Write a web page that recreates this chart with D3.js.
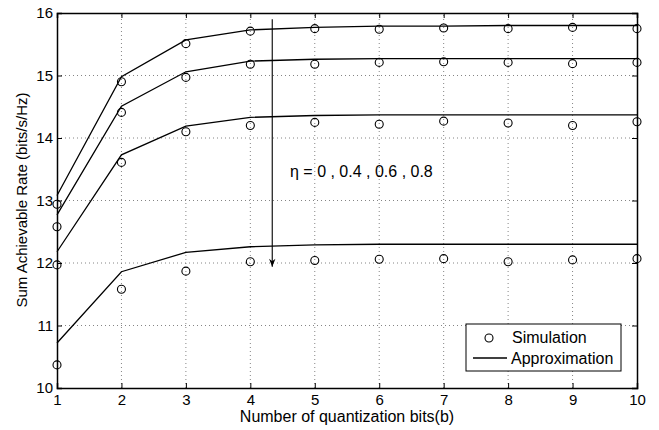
<!DOCTYPE html>
<html><head><meta charset="utf-8">
<script src="https://cdn.jsdelivr.net/npm/d3@7"></script>
<style>body{margin:0;background:#fff}svg{display:block}text{font-family:"Liberation Sans",Arial,sans-serif;fill:#000}</style>
</head><body>
<script>
const bits = [1,2,3,4,5,6,7,8,9,10];
const etaLabels = ["0","0.4","0.6","0.8"];
const simEta0  = [12.94,14.90,15.51,15.71,15.75,15.74,15.76,15.75,15.77,15.75];
const simEta04 = [12.58,14.41,14.97,15.18,15.18,15.21,15.22,15.21,15.19,15.21];
const simEta06 = [11.97,13.61,14.10,14.20,14.25,14.22,14.27,14.24,14.20,14.26];
const simEta08 = [10.37,11.58,11.87,12.02,12.04,12.06,12.07,12.02,12.05,12.07];
const apxEta0  = [13.08,14.98,15.57,15.73,15.77,15.79,15.79,15.80,15.80,15.80];
const apxEta04 = [12.77,14.51,15.06,15.23,15.26,15.27,15.27,15.27,15.27,15.27];
const apxEta06 = [12.18,13.73,14.19,14.33,14.36,14.37,14.37,14.37,14.37,14.37];
const apxEta08 = [10.72,11.86,12.17,12.26,12.29,12.30,12.30,12.30,12.30,12.30];
const xTicks = [1,2,3,4,5,6,7,8,9,10];
const yTicks = [10,11,12,13,14,15,16];
const arrowX = 4.34, arrowFrom = 15.9, arrowTo = 11.94;

const W=659,H=430;
const m={l:57,r:22,t:13,b:42};
const svg=d3.select("body").append("svg").attr("width",W).attr("height",H);
const x=d3.scaleLinear().domain([1,10]).range([m.l,W-m.r]);
const y=d3.scaleLinear().domain([10,16]).range([H-m.b,m.t]);
const g=svg.append("g");

// grid
g.selectAll(".gx").data(xTicks.slice(1,-1)).enter().append("line")
 .attr("x1",d=>x(d)).attr("x2",d=>x(d)).attr("y1",y(10)).attr("y2",y(16))
 .attr("stroke","#666").attr("stroke-width",0.8).attr("stroke-dasharray","1,3");
g.selectAll(".gy").data(yTicks.slice(1,-1)).enter().append("line")
 .attr("y1",d=>y(d)).attr("y2",d=>y(d)).attr("x1",x(1)).attr("x2",x(10))
 .attr("stroke","#666").attr("stroke-width",0.8).attr("stroke-dasharray","1,3");

// axes
const xa=svg.append("g").attr("transform",`translate(0,${y(10)})`)
 .call(d3.axisBottom(x).tickValues(xTicks).tickSize(-5).tickPadding(6).tickFormat(d3.format("d")));
const xt=svg.append("g").attr("transform",`translate(0,${y(16)})`)
 .call(d3.axisTop(x).tickValues(xTicks).tickSize(-5).tickFormat(""));
const ya=svg.append("g").attr("transform",`translate(${x(1)},0)`)
 .call(d3.axisLeft(y).tickValues(yTicks).tickSize(-5).tickPadding(4).tickFormat(d3.format("d")));
const yr=svg.append("g").attr("transform",`translate(${x(10)},0)`)
 .call(d3.axisRight(y).tickValues(yTicks).tickSize(-5).tickFormat(""));
[xa,xt,ya,yr].forEach(a=>{a.select(".domain").attr("stroke","#000").attr("stroke-width",1.5);
 a.selectAll(".tick line").attr("stroke","#000");
 a.selectAll("text").attr("font-size",15).attr("font-family","Liberation Sans, Arial, sans-serif").attr("fill","#000");});

// lines
const line=d3.line().x((d,i)=>x(bits[i])).y(d=>y(d));
[apxEta0,apxEta04,apxEta06,apxEta08].forEach(s=>{
 g.append("path").datum(s).attr("d",line).attr("fill","none").attr("stroke","#000").attr("stroke-width",1.3);
});
[simEta0,simEta04,simEta06,simEta08].forEach(s=>{
 g.selectAll(null).data(s).enter().append("circle")
  .attr("cx",(d,i)=>x(bits[i])).attr("cy",d=>y(d)).attr("r",4)
  .attr("fill","none").attr("stroke","#000").attr("stroke-width",1.1);
});

// arrow
svg.append("defs").append("marker").attr("id","ah").attr("viewBox","0 0 10 10")
 .attr("refX",10).attr("refY",5).attr("markerWidth",10).attr("markerHeight",8)
 .attr("markerUnits","userSpaceOnUse").attr("orient","auto")
 .append("path").attr("d","M0,1 L10,5 L0,9 L3,5 Z").attr("fill","#000");
g.append("line").attr("x1",x(arrowX)).attr("x2",x(arrowX)).attr("y1",y(arrowFrom)).attr("y2",y(arrowTo))
 .attr("stroke","#000").attr("stroke-width",1.1).attr("marker-end","url(#ah)");
svg.append("text").attr("x",290).attr("y",177).attr("font-size",16)
 .text("η = "+etaLabels.join(" , "));

// legend
const lg=svg.append("g");
lg.append("rect").attr("x",466).attr("y",324).attr("width",155).attr("height",47)
 .attr("fill","#fff").attr("stroke","#000").attr("stroke-width",1);
lg.append("circle").attr("cx",489).attr("cy",338).attr("r",4).attr("fill","none").attr("stroke","#000").attr("stroke-width",1.1);
lg.append("text").attr("x",512).attr("y",343).attr("font-size",16).text("Simulation");
lg.append("line").attr("x1",473).attr("x2",507).attr("y1",358).attr("y2",358).attr("stroke","#000").attr("stroke-width",1.3);
lg.append("text").attr("x",511).attr("y",364).attr("font-size",16).text("Approximation");

// titles
svg.append("text").attr("x",347).attr("y",422).attr("text-anchor","middle").attr("font-size",16)
 .text("Number of quantization bits(b)");
svg.append("text").attr("transform",`translate(27,200) rotate(-90)`)
 .attr("text-anchor","middle").attr("font-size",15).text("Sum Achievable Rate (bits/s/Hz)");
</script>
</body></html>
